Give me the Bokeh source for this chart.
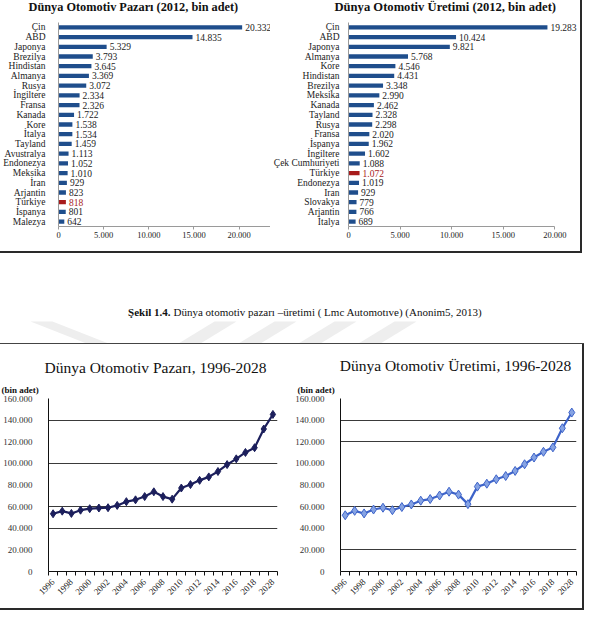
import math
from bokeh.plotting import figure
from bokeh.layouts import column, row
from bokeh.models import Range1d, FactorRange, FixedTicker, Div, ColumnDataSource, Title
from bokeh.core.properties import value
from bokeh.embed import file_html
from bokeh.resources import INLINE

SERIF = "Liberation Serif"

# ---------------- data ----------------
market_title = "Dünya Otomotiv Pazarı (2012, bin adet)"
market_countries = ["Çin", "ABD", "Japonya", "Brezilya", "Hindistan", "Almanya", "Rusya",
                    "İngiltere", "Fransa", "Kanada", "Kore", "İtalya", "Tayland", "Avustralya",
                    "Endonezya", "Meksika", "İran", "Arjantin", "Türkiye", "İspanya", "Malezya"]
market_values = [20332, 14835, 5329, 3793, 3645, 3369, 3072, 2334, 2326, 1722, 1538, 1534,
                 1459, 1113, 1052, 1010, 929, 823, 818, 801, 642]

production_title = "Dünya Otomotiv Üretimi (2012, bin adet)"
production_countries = ["Çin", "ABD", "Japonya", "Almanya", "Kore", "Hindistan", "Brezilya",
                        "Meksika", "Kanada", "Tayland", "Rusya", "Fransa", "İspanya", "İngiltere",
                        "Çek Cumhuriyeti", "Türkiye", "Endonezya", "Iran", "Slovakya", "Arjantin",
                        "İtalya"]
production_values = [19283, 10424, 9821, 5768, 4546, 4431, 3348, 2990, 2462, 2328, 2298, 2020,
                     1962, 1602, 1088, 1072, 1019, 929, 779, 766, 689]

bar_ticks = [0, 5000, 10000, 15000, 20000, 25000]
bar_tick_labels = ["0", "5.000", "10.000", "15.000", "20.000", "25.000"]

caption_bold = "Şekil 1.4."
caption_rest = "Dünya otomotiv pazarı –üretimi ( Lmc Automotıve) (Anonim5, 2013)"

years = ["1996", "1997", "1998", "1999", "2000", "2001", "2002", "2003", "2004", "2005",
         "2006", "2007", "2008", "2009", "2010", "2011", "2012", "2013", "2014", "2015",
         "2016", "2017", "2018", "2023", "2028"]
market_series = [53400, 55800, 53700, 56700, 58100, 58700, 59000, 61100, 64600, 66300,
                 69300, 73700, 69300, 66900, 77200, 80400, 84300, 87500, 92500, 98900,
                 104200, 110100, 114500, 131800, 145300]
production_series = [52000, 56100, 53700, 57300, 59000, 56700, 59600, 62000, 65500, 67000,
                     70300, 73800, 71100, 62300, 78500, 81200, 85300, 88300, 93000, 99200,
                     105400, 110700, 114800, 132500, 147000]

line_title_market = "Dünya Otomotiv Pazarı, 1996-2028"
line_title_production = "Dünya Otomotiv Üretimi, 1996-2028"
unit_label = "(bin adet)"
y_ticks = [0, 20000, 40000, 60000, 80000, 100000, 120000, 140000, 160000]
y_tick_labels = ["0", "20.000", "40.000", "60.000", "80.000", "100.000", "120.000",
                 "140.000", "160.000"]

BAR_BLUE = "#1f4e8c"
BAR_RED = "#a81c1c"


def fmt(v):
    return f"{v:,}".replace(",", ".")


def strip(width, height, text, x, y, size, style, align):
    """A small figure that only carries a heading text."""
    s = figure(width=width, height=height, output_backend="svg", toolbar_location=None,
               x_range=Range1d(0, width), y_range=Range1d(height, 0),
               min_border_left=0, min_border_right=0, min_border_top=0, min_border_bottom=0)
    s.axis.visible = False
    s.grid.visible = False
    s.outline_line_color = None
    s.text(x=[x], y=[y], text=[text], text_align=align, text_baseline="middle",
           text_font=value(SERIF), text_font_style=style, text_font_size=size,
           text_color="#111111")
    return s


def bar_chart(countries, values, width, bl, x_end, axis_end, label_standoff):
    p = figure(width=width, height=237, output_backend="svg", toolbar_location=None,
               y_range=FactorRange(*reversed(countries)), x_range=Range1d(0, x_end),
               min_border_left=bl, min_border_right=0, min_border_top=8, min_border_bottom=25)
    colors = [BAR_RED if c == "Türkiye" else BAR_BLUE for c in countries]
    tcolors = [BAR_RED if c == "Türkiye" else "#222222" for c in countries]
    src = ColumnDataSource(dict(c=countries, v=values, col=colors, tcol=tcolors,
                                lab=[fmt(v) for v in values]))
    p.hbar(y="c", right="v", height=0.44, fill_color="col", line_color=None, source=src)
    p.text(x="v", y="c", text="lab", x_offset=3, text_baseline="middle",
           text_font=value(SERIF), text_font_size="9.5px", text_color="tcol", source=src)
    p.xgrid.visible = False
    p.ygrid.visible = False
    p.outline_line_color = None
    xa = p.xaxis[0]
    xa.ticker = FixedTicker(ticks=bar_ticks)
    xa.major_label_overrides = dict(zip(bar_ticks, bar_tick_labels))
    xa.bounds = (0, axis_end)
    xa.axis_line_color = "#9a9a9a"
    xa.major_tick_line_color = "#9a9a9a"
    xa.major_tick_out = 3
    xa.major_tick_in = 0
    xa.minor_tick_line_color = None
    xa.major_label_standoff = 2
    xa.major_label_text_font = SERIF
    xa.major_label_text_font_size = "8.5px"
    xa.major_label_text_color = "#222222"
    ya = p.yaxis[0]
    ya.axis_line_color = "#9a9a9a"
    ya.major_tick_line_color = None
    ya.major_label_standoff = label_standoff
    ya.major_label_text_font = SERIF
    ya.major_label_text_font_size = "9.5px"
    ya.major_label_text_color = "#222222"
    return p


bar_l = bar_chart(market_countries, market_values, 270, 53, 23470, 25000, 7)
bar_r = bar_chart(production_countries, production_values, 310, 74, 22487, 20000, 3)
head_bl = strip(270, 14, market_title, 28, 6, "12.3px", "bold", "left")
head_br = strip(310, 14, production_title, 64, 6, "12.6px", "bold", "left")


def line_chart(series, width, bl, br, bt, bb, color, mfill, msize, grid_ticks):
    xs = list(range(len(years)))
    p = figure(width=width, height=232, output_backend="svg", toolbar_location=None,
               x_range=Range1d(-0.5, len(years) - 0.5), y_range=Range1d(0, 160000),
               min_border_left=bl, min_border_right=br, min_border_top=bt, min_border_bottom=bb)
    src = ColumnDataSource(dict(x=xs, y=series))
    p.line("x", "y", source=src, line_color=color, line_width=2.2)
    p.scatter("x", "y", source=src, marker="diamond", size=msize, fill_color=mfill,
              line_color=color, line_width=1)
    # "(bin adet)" unit note, left of the frame above the value axis
    p.title = Title(text=unit_label, align="left", offset=-bl, standoff=8,
                    text_font=SERIF, text_font_style="bold", text_font_size="9px",
                    text_color="#111111")
    p.outline_line_color = None
    p.xgrid.visible = False
    p.ygrid.ticker = FixedTicker(ticks=grid_ticks)
    p.ygrid.grid_line_color = "#3a3a3a"
    p.ygrid.grid_line_width = 1
    xa = p.xaxis[0]
    even = xs[::2]
    xa.ticker = FixedTicker(ticks=even, minor_ticks=[i - 0.5 for i in range(len(xs) + 1)])
    xa.major_label_overrides = {i: years[i] for i in even}
    xa.major_label_orientation = math.pi / 4
    xa.axis_line_color = "#111111"
    xa.major_tick_line_color = None
    xa.minor_tick_line_color = "#111111"
    xa.minor_tick_out = 4
    xa.minor_tick_in = 0
    xa.major_label_standoff = 3
    xa.major_label_text_font = SERIF
    xa.major_label_text_font_size = "9px"
    xa.major_label_text_color = "#222222"
    ya = p.yaxis[0]
    ya.ticker = FixedTicker(ticks=y_ticks)
    ya.major_label_overrides = dict(zip(y_ticks, y_tick_labels))
    ya.axis_line_color = "#111111"
    ya.major_tick_line_color = None
    ya.minor_tick_line_color = None
    ya.major_label_standoff = 10
    ya.major_label_text_font = SERIF
    ya.major_label_text_font_size = "9px"
    ya.major_label_text_color = "#333333"
    return p


line_l = line_chart(market_series, 292, 47, 15, 22, 33, "#1c1f5c", "#1c1f5c", 8,
                    [40000, 60000, 100000, 140000, 160000])
line_r = line_chart(production_series, 290, 43, 6, 21, 37, "#3d63c9", "#86a3e3", 9,
                    [20000, 60000, 120000, 140000, 160000])
head_ll = strip(292, 32, line_title_market, 155, 23, "15.5px", "normal", "center")
head_lr = strip(290, 32, line_title_production, 163, 21, "15.5px", "normal", "center")

# ---------------- caption area ----------------
cap = figure(width=586, height=90, output_backend="svg", toolbar_location=None,
             x_range=Range1d(0, 586), y_range=Range1d(90, 0),
             min_border_left=0, min_border_right=0, min_border_top=0, min_border_bottom=0)
cap.axis.visible = False
cap.grid.visible = False
cap.outline_line_color = None
# faint watermark bands of the scanned page
wm_x = [[30, 52, 108, 86], [178, 200, 236, 214], [238, 260, 296, 274], [298, 320, 356, 334],
        [358, 380, 416, 394]]
wm_y = [[68, 68, 90, 90], [90, 90, 68, 68], [90, 90, 68, 68], [90, 90, 68, 68],
        [90, 90, 68, 68]]
cap.patches(wm_x, wm_y, fill_color="#eeeeee", line_color=None)
cap.text(x=[170], y=[58], text=[caption_bold], text_align="right", text_baseline="middle",
         text_font=value(SERIF), text_font_style="bold", text_font_size="11px",
         text_color="#111111")
cap.text(x=[173], y=[58], text=[caption_rest], text_align="left", text_baseline="middle",
         text_font=value(SERIF), text_font_size="11px", text_color="#111111")


def bar_div(w, h, color):
    return Div(text="", width=w, height=h, margin=0, styles={"background-color": color})


layout = column(
    row(head_bl, head_br, bar_div(2, 14, "#2a2a2a"), spacing=0),
    row(bar_l, bar_r, bar_div(2, 237, "#2a2a2a"), spacing=0),
    bar_div(582, 2, "#2a2a2a"),
    cap,
    bar_div(584, 1, "#444444"),
    row(head_ll, head_lr, bar_div(2, 32, "#2a2a2a"), spacing=0),
    row(line_l, line_r, bar_div(2, 232, "#2a2a2a"), spacing=0),
    bar_div(584, 2, "#2a2a2a"),
    spacing=0)

open("out.html", "w").write(file_html(layout, INLINE))
